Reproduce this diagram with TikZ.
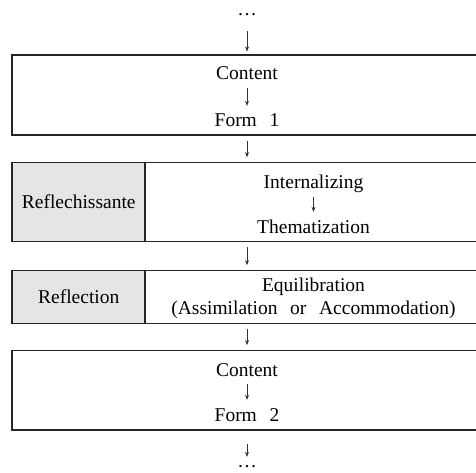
\documentclass[tikz,border=0pt]{standalone}
\usepackage{fontspec}
\setmainfont{Liberation Serif}
\usetikzlibrary{arrows.meta}
\newcommand{\wsp}{\hspace{0.65em}}

\tikzset{
  cell/.style={draw=black!85, line width=1.1pt, inner sep=0pt},
  shadecell/.style={cell, fill=black!10},
  lbl/.style={inner sep=0pt, text height=13pt, text depth=4pt, anchor=base},
  dotlbl/.style={lbl, text height=4pt, text depth=0pt},
  arr/.style={-{Stealth[length=5pt,width=4pt]}, line width=0.6pt, black!80, shorten <=5pt, shorten >=5pt},
  inarr/.style={arr, shorten <=4pt, shorten >=8pt},
}

\begin{document}
\begin{tikzpicture}[x=1pt, y=-1pt, font=\fontsize{19.5}{23}\selectfont]
    \useasboundingbox (0,0) rectangle (476,473);

    % Kaesten.
    \node[cell, minimum width=470pt, minimum height=80pt] (box1) at (247,95) {};
    \node[cell, minimum width=470pt, minimum height=79pt] (row2) at (247,202.2) {};
    \node[shadecell, minimum width=132.5pt, minimum height=79pt] (refl) at (78.75,202.2) {Reflechissante};
    \node[cell, minimum width=470pt, minimum height=52.6pt] (row3) at (247,297) {};
    \node[shadecell, minimum width=132.5pt, minimum height=52.6pt] (reflc) at (78.75,297) {Reflection};
    \node[cell, minimum width=470pt, minimum height=79.3pt] (box4) at (247,390.3) {};

    % Beschriftungen.
    \node[dotlbl] (dots1) at (247,16) {\dots};
    \node[lbl] (cont1) at (247,80) {Content};
    \node[lbl] (form1) at (247,127) {Form\wsp 1};
    \node[lbl] (intl) at (313.5,189) {Internalizing};
    \node[lbl] (them) at (313.5,233) {Thematization};
    \node[lbl] (equi) at (313.5,291) {Equilibration};
    \node[lbl] (assi) at (313.5,314) {(Assimilation\wsp or\wsp Accommodation)};
    \node[lbl] (cont2) at (247,376) {Content};
    \node[lbl] (form2) at (247,421) {Form\wsp 2};
    \node[dotlbl] (dots2) at (247,467) {\dots};

    % Pfeile.
    \draw[arr, shorten <=15pt, shorten >=3pt] (dots1) -- (box1);
    \draw[inarr] (cont1) -- (form1);
    \draw[arr] (box1) -- (row2);
    \draw[inarr] (intl) -- (them);
    \draw[arr] (row2) -- (row3);
    \draw[arr] (row3) -- (box4);
    \draw[inarr] (cont2) -- (form2);
    \draw[arr, shorten <=13pt, shorten >=6pt] (box4) -- (dots2);
\end{tikzpicture}
\end{document}
